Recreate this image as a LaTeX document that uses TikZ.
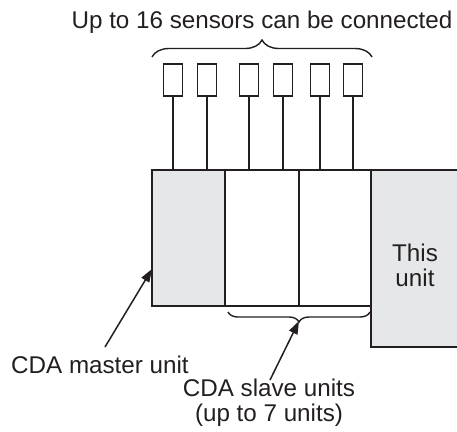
\documentclass[tikz,border=0pt]{standalone}
\usepackage{fontspec}
\setmainfont{Liberation Sans}
\usetikzlibrary{decorations.pathreplacing,arrows.meta}
\definecolor{ink}{HTML}{231F20}
\definecolor{unitgrey}{HTML}{E6E7E8}
\begin{document}
\begin{tikzpicture}[x=1bp,y=-1bp,
  every node/.style={font=\fontsize{24.2bp}{25bp}\selectfont, text=ink},
  sensor/.style={draw=ink, line width=1.6bp, minimum width=19bp, minimum height=32bp, inner sep=0pt},
  unitbox/.style={draw=ink, line width=1.9bp, inner sep=0pt},
  wire/.style={draw=ink, line width=1.5bp},
  bracelines/.style={draw=ink, line width=1.4bp, decorate},
  pointer/.style={draw=ink, line width=1.5bp, -{Triangle[length=13bp,width=9bp]}}]
\useasboundingbox (0,0) rectangle (457,431);
\clip (0,0) rectangle (457,431);
% units
\node[unitbox, fill=unitgrey, minimum width=99bp, minimum height=177bp] (this) at (420.5,258.5) {};
\node[unitbox, fill=unitgrey, minimum width=73bp, minimum height=136bp] (master) at (188.5,238) {};
\node[unitbox, fill=white, minimum width=74bp, minimum height=136bp] (slaveA) at (262,238) {};
\node[unitbox, fill=white, minimum width=72bp, minimum height=136bp] (slaveB) at (335,238) {};
\node[align=center] (thislbl) at (415,265) {This\\unit};
% sensors
\foreach \i/\x in {1/173,2/207,3/249,4/283,5/320,6/353}{
  \node[sensor] (s\i) at (\x,80) {};
  \draw[wire] (s\i.south) -- (s\i.south |- master.north);
}
% top brace
\coordinate (tbL) at (152,57);
\coordinate (tbR) at (372,57);
\draw[bracelines, decoration={brace, amplitude=17bp}] (tbL) -- (tbR);
\node (toplbl) at (262,22) {Up to 16 sensors can be connected};
% bottom brace
\coordinate (bbL) at (228,312);
\coordinate (bbR) at (370,312);
\draw[bracelines, decoration={brace, mirror, amplitude=10bp}] (bbL) -- (bbR);
% labels
\node (masterlbl) at (100,365) {CDA master unit};
\node[align=center] (slavelbl) at (269,403) {CDA slave units\\(up to 7 units)};
\coordinate (mtip) at (152,269);
\coordinate (mstart) at (105,347);
\coordinate (stip) at (299,321);
\coordinate (sstart) at (270,380);
\draw[pointer] (mstart) -- (mtip);
\draw[pointer] (sstart) -- (stip);
\end{tikzpicture}
\end{document}
